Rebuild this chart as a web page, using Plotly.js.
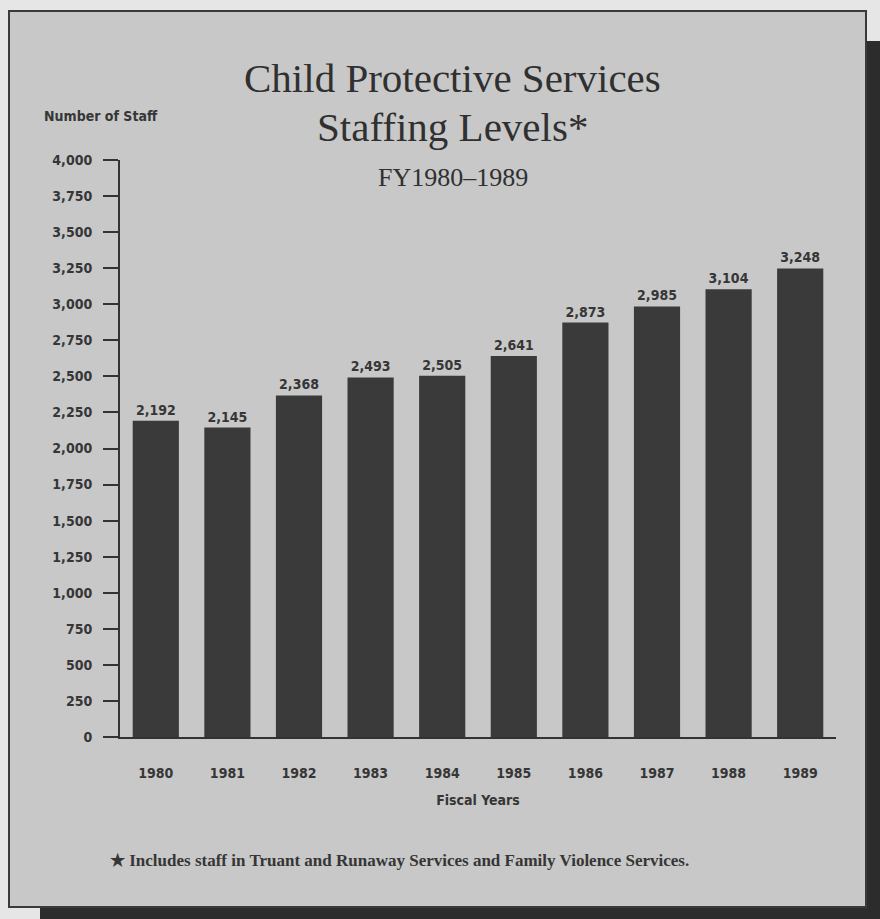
<!DOCTYPE html>
<html>
<head>
<meta charset="utf-8">
<script src="https://cdn.plot.ly/plotly-3.0.1.min.js"></script>
<style>
html,body{margin:0;padding:0;background:#e6e6e6;}
#chart{width:880px;height:919px;}
</style>
</head>
<body>
<div id="chart"></div>
<script>
// Data
const years = ['1980','1981','1982','1983','1984','1985','1986','1987','1988','1989'];
const staff = [2192, 2145, 2368, 2493, 2505, 2641, 2873, 2985, 3104, 3248];
const yTicks = [0,250,500,750,1000,1250,1500,1750,2000,2250,2500,2750,3000,3250,3500,3750,4000];

const titleLines = ['Child Protective Services', 'Staffing Levels*', 'FY1980–1989'];
const yLabel = 'Number of Staff';
const xLabel = 'Fiscal Years';
const footnote = '★ Includes staff in Truant and Runaway Services and Family Violence Services.';

// Geometry helpers (pixel -> paper)
const W = 880, H = 919;
const L = 120, R = 836, T = 160, B = 737;
const px = x => (x - L) / (R - L);
const py = y => (B - y) / (B - T);

const sansBold = '"Liberation Sans Narrow", "DejaVu Sans Condensed", "Liberation Sans", Arial, sans-serif';
const serif = '"Liberation Serif", "DejaVu Serif", serif';
const ink = '#363636';

const trace = {
  type: 'bar',
  x: years,
  y: staff,
  marker: {color: '#3a3a3a', line: {width: 0}},
  texttemplate: '%{y:,}',
  textposition: 'outside',
  textfont: {family: sansBold, size: 14, color: ink, weight: 'bold'},
  cliponaxis: false,
  hoverinfo: 'x+y'
};

const layout = {
  width: W, height: H,
  margin: {l: L, r: W - R, t: T, b: H - B, pad: 0},
  paper_bgcolor: '#e6e6e6',
  plot_bgcolor: 'rgba(0,0,0,0)',
  showlegend: false,
  bargap: 0.355,
  font: {family: sansBold, color: ink},
  xaxis: {
    type: 'category',
    range: [-0.5, 9.5],
    showline: true, linecolor: '#333', linewidth: 2,
    ticks: 'outside', ticklen: 22, tickcolor: 'rgba(0,0,0,0)',
    tickfont: {family: sansBold, size: 14, color: ink, weight: 'bold'},
    showgrid: false, zeroline: false,
    title: {text: xLabel, font: {family: sansBold, size: 14, color: ink, weight: 'bold'}, standoff: 15}
  },
  yaxis: {
    range: [0, 4000],
    tickvals: yTicks,
    tickformat: ',d',
    showline: true, linecolor: '#333', linewidth: 2,
    ticks: 'outside', ticklen: 15, tickwidth: 2, tickcolor: '#333',
    ticklabelstandoff: 8,
    tickfont: {family: sansBold, size: 14, color: ink, weight: 'bold'},
    showgrid: false, zeroline: false
  },
  shapes: [
    // drop shadow
    {type: 'rect', xref: 'paper', yref: 'paper', layer: 'below',
     x0: px(40), x1: px(880), y0: py(919), y1: py(41),
     fillcolor: '#2c2c2c', line: {width: 0}},
    // panel
    {type: 'rect', xref: 'paper', yref: 'paper', layer: 'below',
     x0: px(9), x1: px(866), y0: py(907), y1: py(11),
     fillcolor: '#c8c8c8', line: {color: '#3a3a3a', width: 2}}
  ],
  annotations: [
    {text: titleLines[0], xref: 'paper', yref: 'paper', x: px(452), y: py(78),
     xanchor: 'center', yanchor: 'middle', showarrow: false,
     font: {family: serif, size: 41, color: '#303030'}},
    {text: titleLines[1], xref: 'paper', yref: 'paper', x: px(452), y: py(127),
     xanchor: 'center', yanchor: 'middle', showarrow: false,
     font: {family: serif, size: 41, color: '#303030'}},
    {text: titleLines[2], xref: 'paper', yref: 'paper', x: px(453), y: py(178),
     xanchor: 'center', yanchor: 'middle', showarrow: false,
     font: {family: serif, size: 26, color: '#303030'}},
    {text: yLabel, xref: 'paper', yref: 'paper', x: px(101), y: py(116),
     xanchor: 'center', yanchor: 'middle', showarrow: false,
     font: {family: sansBold, size: 14, color: ink, weight: 'bold'}},
    {text: footnote, xref: 'paper', yref: 'paper', x: px(399), y: py(860),
     xanchor: 'center', yanchor: 'middle', showarrow: false,
     font: {family: serif, size: 17, color: ink, weight: 'bold'}}
  ]
};

Plotly.newPlot('chart', [trace], layout, {displayModeBar: false, staticPlot: true});
</script>
</body>
</html>
